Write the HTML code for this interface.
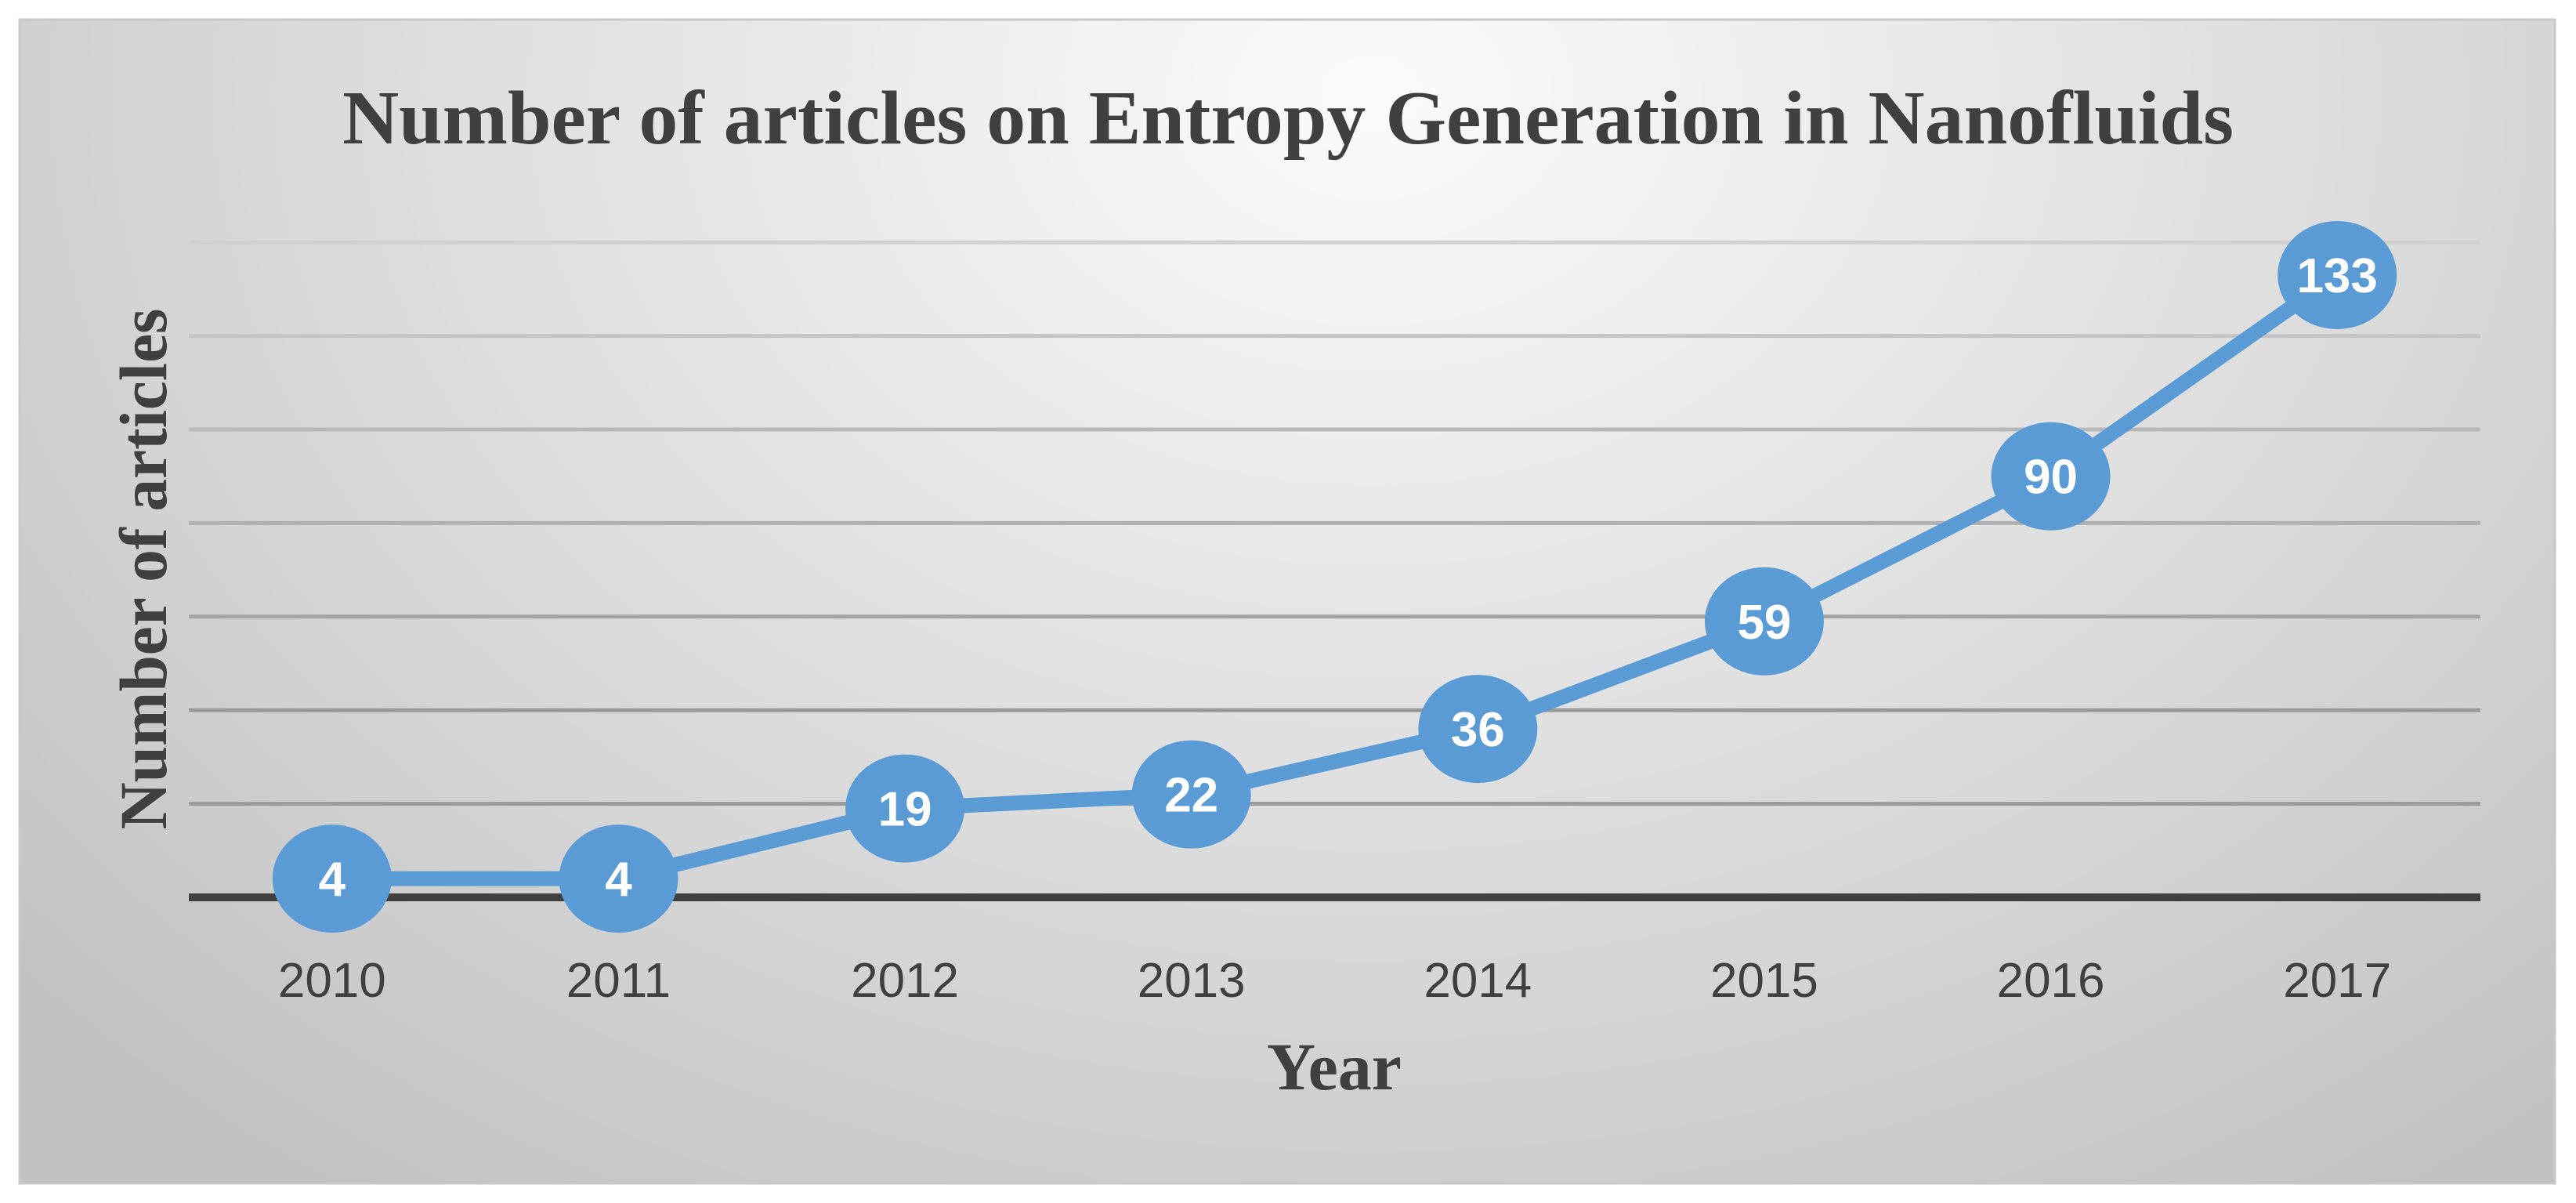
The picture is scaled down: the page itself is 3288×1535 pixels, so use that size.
<!DOCTYPE html>
<html><head><meta charset="utf-8"><style>
html,body{margin:0;padding:0;background:#fff;}
svg{display:block;}
</style></head><body>
<svg id="chart" width="3288" height="1535" viewBox="0 0 3288 1535" xmlns="http://www.w3.org/2000/svg">
<defs>
<radialGradient id="bg" cx="1750" cy="120" r="2300" gradientUnits="userSpaceOnUse" gradientTransform="translate(1750 120) scale(1 0.75) translate(-1750 -120)">
<stop offset="0" stop-color="#fbfbfb"/>
<stop offset="0.55" stop-color="#dcdcdc"/>
<stop offset="1" stop-color="#c2c2c2"/>
</radialGradient>
</defs>
<rect x="25" y="25" width="3236" height="1485" fill="url(#bg)" stroke="#c8c8c8" stroke-width="3"/>
<text x="1644" y="183" text-anchor="middle" textLength="2414" lengthAdjust="spacingAndGlyphs" font-family="'Liberation Serif', serif" font-weight="bold" font-size="98" fill="#404040">Number of articles on Entropy Generation in Nanofluids</text>
<g id="grid"></g>
<line x1="241" x2="3166" y1="1145" y2="1145" stroke="#404040" stroke-width="10"/>
<g id="xlabels"></g>
<g id="series"></g>
<text x="1703" y="1390" text-anchor="middle" font-family="'Liberation Serif', serif" font-weight="bold" font-size="86" fill="#404040">Year</text>
<text transform="translate(212 726) rotate(-90)" text-anchor="middle" textLength="665" lengthAdjust="spacingAndGlyphs" font-family="'Liberation Serif', serif" font-weight="bold" font-size="86" fill="#404040">Number of articles</text>
</svg>
<script>
const categories = ["2010","2011","2012","2013","2014","2015","2016","2017"];
const values = [4, 4, 19, 22, 36, 59, 90, 133];
const gridTicks = [20, 40, 60, 80, 100, 120, 140];

const NS = "http://www.w3.org/2000/svg";
const plotLeft = 241, plotRight = 3166, y0 = 1145, unit = 5.97;
const step = (plotRight - plotLeft) / categories.length;
function xPos(i){ return plotLeft + step * (i + 0.5); }
function yPos(v){ return y0 - v * unit; }
function mk(tag, attrs, parent){ const e = document.createElementNS(NS, tag); for (const k in attrs) e.setAttribute(k, attrs[k]); parent.appendChild(e); return e; }

const grid = document.getElementById("grid");
const gridColors = ["#9a9a9a","#999999","#a4a4a4","#b0b0b0","#b8b8b8","#c4c4c4","#d0d0d0"];
gridTicks.forEach((t, i) => {
  const l = mk("line", {x1: plotLeft, x2: plotRight, y1: yPos(t), y2: yPos(t), stroke: gridColors[i] || "#c0c0c0", "stroke-width": 5}, grid);
  
  
});

const xl = document.getElementById("xlabels");
categories.forEach((c, i) => {
  const t = mk("text", {x: xPos(i), y: 1272, "text-anchor": "middle", "font-family": "'Liberation Sans', sans-serif", "font-size": 62, fill: "#404040"}, xl);
  t.textContent = c;
  
  
});

const s = document.getElementById("series");
const pts = values.map((v, i) => xPos(i) + "," + yPos(v)).join(" ");
const line = mk("polyline", {points: pts, fill: "none", stroke: "#5b9bd5", "stroke-width": 19, "stroke-linejoin": "round"}, s);


values.forEach((v, i) => {
  const e = mk("ellipse", {cx: xPos(i), cy: yPos(v), rx: 76, ry: 69, fill: "#5b9bd5"}, s);
  
  
  const t = mk("text", {x: xPos(i), y: yPos(v) + 22, "text-anchor": "middle", "font-family": "'Liberation Sans', sans-serif", "font-weight": "bold", "font-size": 62, fill: "#ffffff"}, s);
  t.textContent = v;
  
  
});
</script>
</body></html>
